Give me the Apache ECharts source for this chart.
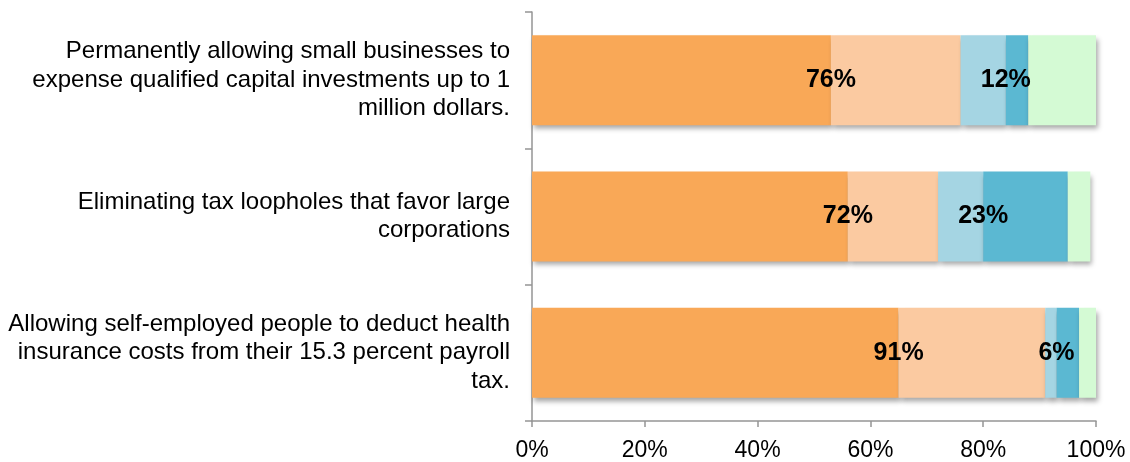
<!DOCTYPE html>
<html>
<head>
<meta charset="utf-8">
<script src="https://cdn.jsdelivr.net/npm/echarts@6/dist/echarts.min.js"></script>
<style>
  html, body { margin: 0; padding: 0; background: #ffffff; }
  #chart { width: 1130px; height: 462px; }
</style>
</head>
<body>
<div id="chart"></div>
<script>
// Survey items (top to bottom)
const categories = [
  'Permanently allowing small businesses to\nexpense qualified capital investments up to 1\nmillion dollars.',
  'Eliminating tax loopholes that favor large\ncorporations',
  'Allowing self-employed people to deduct health\ninsurance costs from their 15.3 percent payroll\ntax.'
];

// Percent of respondents
const totalSupport   = [76, 72, 91];
const strongSupport  = [53, 56, 65];
const totalOppose    = [12, 23, 6];
const strongOppose   = [4, 15, 4];
const noOpinion      = [12, 4, 3];

const somewhatSupport = totalSupport.map((v, i) => v - strongSupport[i]);
const somewhatOppose  = totalOppose.map((v, i) => v - strongOppose[i]);

const xTicks = [0, 20, 40, 60, 80, 100];

const FONT = 'Liberation Sans, Arial, Helvetica, sans-serif';
const AXIS_GREY = '#959595';

const shadow = {
  shadowColor: 'rgba(0,0,0,0.35)',
  shadowBlur: 5,
  shadowOffsetX: 2,
  shadowOffsetY: 4
};

function seg(name, data, color, label) {
  const s = {
    name, type: 'bar', stack: 'all', data,
    barWidth: '66%',
    itemStyle: Object.assign({ color }, shadow),
    emphasis: { disabled: true }
  };
  if (label) s.label = label;
  return s;
}

// Group total, centred on the left edge of the segment it is attached to
const totalLabel = (arr) => ({
  show: true,
  position: [0, '50%'],
  align: 'center',
  verticalAlign: 'middle',
  fontFamily: FONT,
  fontWeight: 'bold',
  fontSize: 25,
  color: '#000',
  formatter: (p) => arr[p.dataIndex] + '%'
});

const chart = echarts.init(document.getElementById('chart'));
chart.setOption({
  animation: false,
  grid: { left: 532, right: 34, top: 12, bottom: 41 },
  xAxis: {
    type: 'value', min: 0, max: 100, interval: 20,
    axisLine: { show: true, lineStyle: { color: AXIS_GREY, width: 1.5 } },
    axisTick: { show: true, length: 6, lineStyle: { color: AXIS_GREY, width: 1.5 } },
    splitLine: { show: false },
    axisLabel: {
      margin: 18,
      fontFamily: FONT,
      fontSize: 23, color: '#000',
      formatter: (v) => xTicks.includes(v) ? v + '%' : ''
    }
  },
  yAxis: {
    type: 'category', data: categories, inverse: true,
    axisLine: { show: true, lineStyle: { color: AXIS_GREY, width: 1.5 } },
    axisTick: { show: true, length: 7, lineStyle: { color: AXIS_GREY, width: 1.5 } },
    axisLabel: {
      margin: 22,
      align: 'right',
      fontFamily: FONT,
      fontSize: 24, lineHeight: 28.5, color: '#000',
      padding: [6, 0, 0, 0]
    }
  },
  series: [
    seg('Strongly support', strongSupport, '#F9A857'),
    seg('Somewhat support', somewhatSupport, '#FBCAA1', totalLabel(totalSupport)),
    seg('Somewhat oppose', somewhatOppose, '#A5D5E3'),
    seg('Strongly oppose', strongOppose, '#5BB8D2', totalLabel(totalOppose)),
    seg('No opinion', noOpinion, '#D4FAD4')
  ]
});
</script>
</body>
</html>
